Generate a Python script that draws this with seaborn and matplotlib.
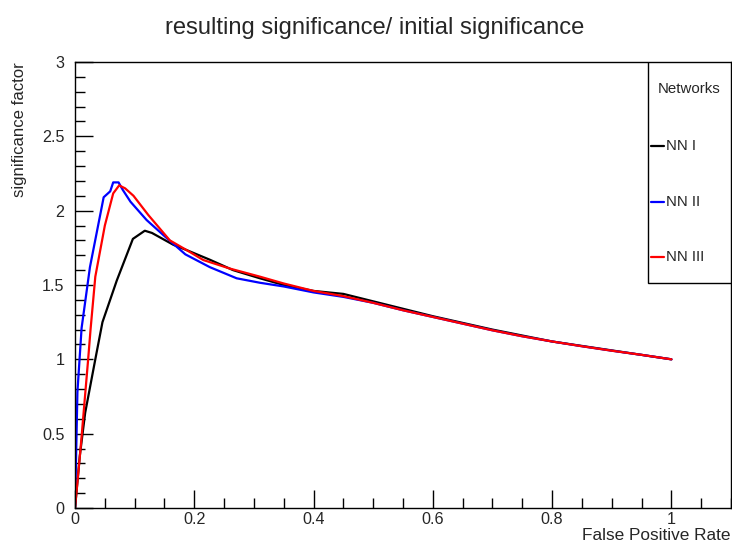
import matplotlib
matplotlib.use("Agg")
import matplotlib.pyplot as plt
from matplotlib.patches import Rectangle
from matplotlib.lines import Line2D
from matplotlib.ticker import MultipleLocator
import seaborn as sns
import pandas as pd

# False positive rate vs. significance factor for the three networks
fpr_nn1 = [0.0, 0.008, 0.017, 0.034, 0.046, 0.070, 0.097, 0.117, 0.129, 0.165, 0.187,
           0.226, 0.265, 0.31, 0.35, 0.40, 0.45, 0.50, 0.55, 0.60, 0.65, 0.70,
           0.75, 0.80, 0.85, 0.90, 0.95, 1.0]
sig_nn1 = [0.0, 0.35, 0.64, 1.0, 1.25, 1.53, 1.81, 1.865, 1.85, 1.77, 1.735,
           1.67, 1.60, 1.545, 1.50, 1.46, 1.44, 1.39, 1.34, 1.29, 1.245, 1.20,
           1.16, 1.12, 1.09, 1.06, 1.03, 1.0]

fpr_nn2 = [0.0, 0.004, 0.011, 0.025, 0.048, 0.059, 0.064, 0.073, 0.080, 0.093, 0.120,
           0.148, 0.185, 0.226, 0.271, 0.31, 0.35, 0.40, 0.45, 0.50, 0.55, 0.60,
           0.65, 0.70, 0.75, 0.80, 0.85, 0.90, 0.95, 1.0]
sig_nn2 = [0.0, 0.78, 1.21, 1.62, 2.09, 2.13, 2.19, 2.19, 2.14, 2.06, 1.937,
           1.836, 1.706, 1.62, 1.545, 1.515, 1.49, 1.45, 1.42, 1.38, 1.33, 1.285,
           1.24, 1.195, 1.155, 1.12, 1.088, 1.058, 1.03, 1.0]

fpr_nn3 = [0.0, 0.0095, 0.022, 0.026, 0.034, 0.050, 0.064, 0.074, 0.084, 0.098, 0.123,
           0.159, 0.187, 0.215, 0.26, 0.31, 0.35, 0.40, 0.45, 0.50, 0.55, 0.60,
           0.65, 0.70, 0.75, 0.80, 0.85, 0.90, 0.95, 1.0]
sig_nn3 = [0.0, 0.41, 1.0, 1.2, 1.556, 1.90, 2.116, 2.17, 2.15, 2.10, 1.97,
           1.80, 1.735, 1.668, 1.61, 1.556, 1.51, 1.46, 1.425, 1.38, 1.33, 1.285,
           1.24, 1.195, 1.155, 1.12, 1.088, 1.058, 1.03, 1.0]

networks = ["NN I", "NN II", "NN III"]
colors = ["#000000", "#0000ff", "#ff0000"]

df = pd.concat([
    pd.DataFrame({"fpr": fpr_nn1, "sig": sig_nn1, "net": networks[0]}),
    pd.DataFrame({"fpr": fpr_nn2, "sig": sig_nn2, "net": networks[1]}),
    pd.DataFrame({"fpr": fpr_nn3, "sig": sig_nn3, "net": networks[2]}),
])

sns.set_style("white")
plt.rcParams["font.family"] = ["Liberation Sans", "DejaVu Sans"]

fig = plt.figure(figsize=(7.32, 5.47), dpi=100)
ax = fig.add_axes([0.1025, 0.0713, 0.8962, 0.8154])

for net, c in zip(networks, colors):
    sub = df[df["net"] == net]
    sns.lineplot(data=sub, x="fpr", y="sig", color=c, sort=False, estimator=None,
                 linewidth=1.6, ax=ax)

ax.set_xlim(0, 1.1)
ax.set_ylim(0, 3)
ax.xaxis.set_major_locator(MultipleLocator(0.2))
ax.xaxis.set_minor_locator(MultipleLocator(0.05))
ax.yaxis.set_major_locator(MultipleLocator(0.5))
ax.yaxis.set_minor_locator(MultipleLocator(0.1))
ax.xaxis.set_major_formatter(plt.FuncFormatter(lambda v, p: f"{v:g}"))
ax.yaxis.set_major_formatter(plt.FuncFormatter(lambda v, p: f"{v:g}"))
ax.tick_params(axis="both", which="major", direction="in", length=13, width=1,
               labelsize=11.6, color="black", left=True, bottom=True, top=False, right=False)
ax.tick_params(axis="both", which="minor", direction="in", length=7, width=1,
               color="black", left=True, bottom=True, top=False, right=False)
ax.tick_params(axis="x", pad=3)
ax.tick_params(axis="y", pad=7.5)
for s in ax.spines.values():
    s.set_color("black")
    s.set_linewidth(1)

ax.set_xlabel("")
ax.set_ylabel("")
fig.text(0.9986, 0.007, "False Positive Rate", ha="right", va="bottom", fontsize=12.4)
fig.text(0.027, 0.887, "significance factor", ha="center", va="top", rotation=90,
         fontsize=12.1)
fig.text(0.512, 0.948, "resulting significance/ initial significance", ha="center",
         va="center", fontsize=17.1)

# legend box
lx0, lx1 = 0.8735, 1.0
ly0, ly1 = 0.505, 1.0
ax.add_patch(Rectangle((lx0, ly0), lx1 - lx0, ly1 - ly0, transform=ax.transAxes,
                       facecolor="white", edgecolor="black", linewidth=1, zorder=5))
ax.text((lx0 + lx1) / 2, 0.94, "Networks", transform=ax.transAxes, ha="center",
        va="center", fontsize=10.8, zorder=6)
for i, (net, c) in enumerate(zip(networks, colors)):
    yy = 0.812 - i * 0.125
    ax.add_line(Line2D([0.878, 0.898], [yy, yy], transform=ax.transAxes, color=c,
                       linewidth=1.6, zorder=6))
    ax.text(0.9015, yy, net, transform=ax.transAxes, ha="left", va="center",
            fontsize=10.8, zorder=6)

fig.savefig("out.png", dpi=100)
